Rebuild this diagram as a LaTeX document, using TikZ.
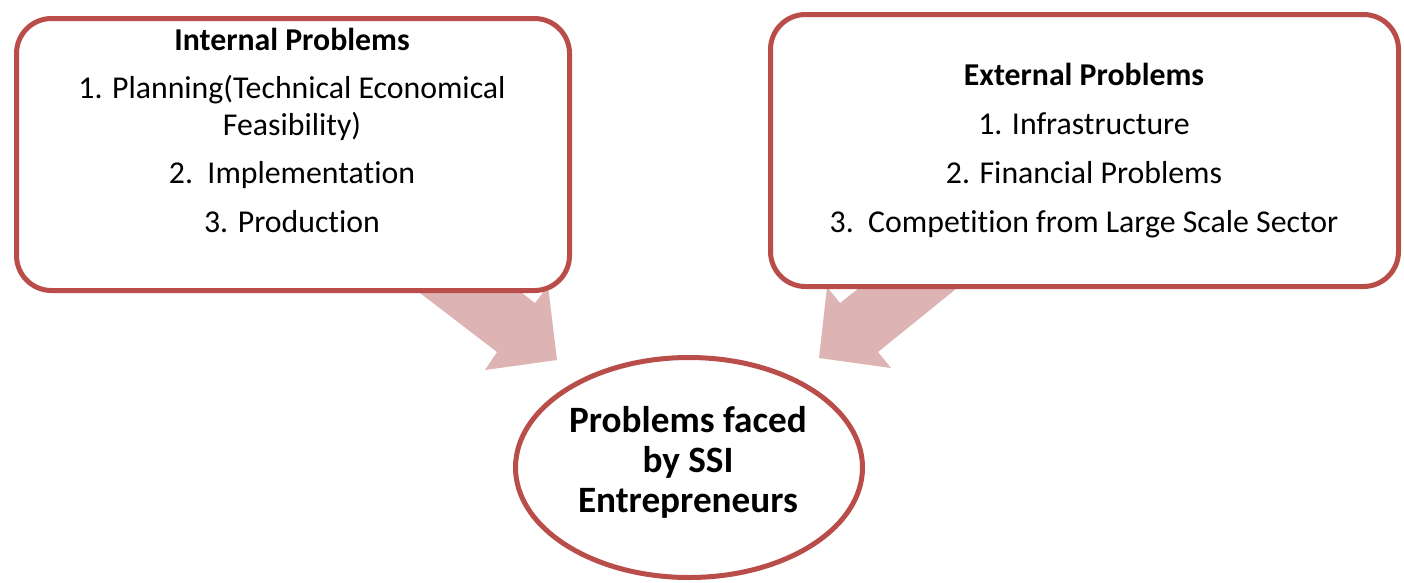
\documentclass[tikz,border=0pt]{standalone}
\usepackage{fontspec}
\setmainfont[Ligatures=NoCommon]{Carlito}
\usetikzlibrary{shapes,positioning,calc}
\definecolor{boxred}{RGB}{185,77,74}
\definecolor{arrowpink}{RGB}{221,179,179}
\tikzset{
    probbox/.style={
        rectangle,
        rounded corners=35pt,
        line width=5pt,
        draw=boxred,
        fill=white,
        inner sep=0pt,
    },
    centre/.style={
        ellipse,
        line width=5pt,
        draw=boxred,
        fill=white,
        inner sep=0pt,
        minimum width=347pt,
        minimum height=220pt,
    },
    blockarrow/.style={
        fill=arrowpink,
        draw=none,
    },
    head/.style={
        anchor=base,
        font=\fontsize{31.8}{38}\selectfont\bfseries,
    },
    item/.style={
        anchor=base,
        font=\fontsize{31.8}{38}\selectfont,
    },
    big/.style={
        anchor=base,
        font=\fontsize{37.2}{44}\selectfont\bfseries,
    },
}
\begin{document}
\begin{tikzpicture}[x=1pt,y=-1pt]
    \useasboundingbox (0,0) rectangle (1404,582);
    % block arrows go first, boxes cover their tails
    \fill[blockarrow] (403,280) -- (497,352) -- (485,370) -- (557,360) -- (548,286) -- (535,303) -- (505,280) -- cycle;
    \fill[blockarrow] (967,280) -- (878,352) -- (891,368) -- (819,358) -- (827,287) -- (840,303) -- (869,280) -- cycle;

    \node [probbox, minimum width=553pt, minimum height=272pt] (intbox) at (293,154.5) {};
    \node [probbox, minimum width=628pt, minimum height=272pt] (extbox) at (1084.5,150.5) {};
    \node [centre] (ssi) at (689,467.5) {};

    % internal
    \node [head] (inthead) at (292,50) {Internal Problems};
    \node [item] (int1) at (292,98) {1. Planning(Technical Economical};
    \node [item] (int1b) at (292,135) {Feasibility)};
    \node [item] (int2) at (292,183) {2.\ \ Implementation};
    \node [item] (int3) at (292,232) {3. Production};

    % external
    \node [head] (exthead) at (1084,85) {External Problems};
    \node [item] (ext1) at (1084,134) {1. Infrastructure};
    \node [item] (ext2) at (1084,183) {2. Financial Problems};
    \node [item] (ext3) at (1084,232) {3.\ \ Competition from Large Scale Sector};

    % centre
    \node [big] (ssi1) at (688,432) {Problems faced};
    \node [big] (ssi2) at (688,472) {by SSI};
    \node [big] (ssi3) at (688,512) {Entrepreneurs};
\end{tikzpicture}
\end{document}
